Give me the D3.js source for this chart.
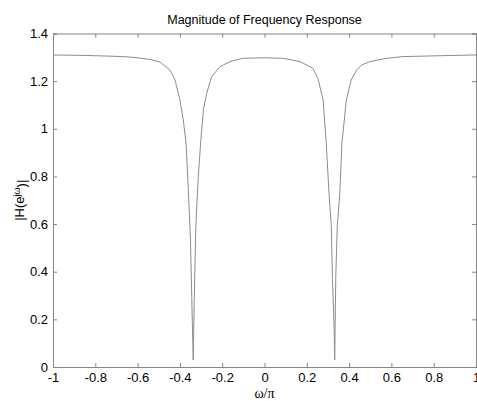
<!DOCTYPE html>
<html>
<head>
<meta charset="utf-8">
<script src="https://cdn.jsdelivr.net/npm/d3@7"></script>
<style>
  body { margin: 0; background: #fff; }
  svg text { font-family: "Liberation Sans", Arial, sans-serif; fill: #000; }
</style>
</head>
<body>
<svg id="vis" width="477" height="401"></svg>
<script>
// frequency (omega/pi) and magnitude
const omega = [-1, -0.85, -0.7, -0.65, -0.6, -0.54, -0.494, -0.447, -0.423, -0.400, -0.384,
  -0.371, -0.363, -0.356, -0.350, -0.344, -0.337, -0.332, -0.325, -0.321, -0.313, -0.302,
  -0.289, -0.273, -0.250, -0.210, -0.163, -0.102, 0, 0.087, 0.168, 0.229, 0.253, 0.277,
  0.292, 0.305, 0.316, 0.321, 0.329, 0.332, 0.337, 0.344, 0.356, 0.366, 0.387, 0.410,
  0.436, 0.460, 0.499, 0.578, 0.655, 0.844, 1];
const magnitude = [1.310, 1.308, 1.304, 1.302, 1.298, 1.291, 1.280, 1.247, 1.205, 1.121, 1.037,
  0.940, 0.799, 0.659, 0.533, 0.295, 0.029, 0.295, 0.575, 0.659, 0.799, 0.940,
  1.079, 1.150, 1.219, 1.261, 1.282, 1.296, 1.298, 1.296, 1.282, 1.254, 1.210, 1.121,
  0.939, 0.729, 0.589, 0.379, 0.169, 0.029, 0.379, 0.589, 0.729, 0.939, 1.121, 1.205,
  1.247, 1.268, 1.282, 1.296, 1.303, 1.307, 1.310];
const xTicks = [-1, -0.8, -0.6, -0.4, -0.2, 0, 0.2, 0.4, 0.6, 0.8, 1];
const yTicks = [0, 0.2, 0.4, 0.6, 0.8, 1, 1.2, 1.4];

const svg = d3.select("#vis");
const margin = {left: 53, right: 1, top: 33.5, bottom: 34};
const width = 477, height = 401;
const axisColor = "#858585";

const x = d3.scaleLinear().domain([-1, 1]).range([margin.left, width - margin.right]);
const y = d3.scaleLinear().domain([0, 1.4]).range([height - margin.bottom, margin.top]);

// matlab style labels, plain hyphen for minus
const fmt = d => String(+d.toFixed(1));

// bottom axis
const xAxis = svg.append("g")
  .attr("transform", `translate(0, ${y(0)})`)
  .call(d3.axisBottom(x).tickValues(xTicks).tickSize(-4).tickPadding(5).tickFormat(fmt));
// top axis (ticks only)
const xTop = svg.append("g")
  .attr("transform", `translate(0, ${y(1.4)})`)
  .call(d3.axisTop(x).tickValues(xTicks).tickSize(-4).tickFormat(""));
// left axis
const yAxis = svg.append("g")
  .attr("transform", `translate(${x(-1)}, 0)`)
  .call(d3.axisLeft(y).tickValues(yTicks).tickSize(-4).tickPadding(5).tickFormat(fmt));
// right axis (ticks only)
const yRight = svg.append("g")
  .attr("transform", `translate(${x(1)}, 0)`)
  .call(d3.axisRight(y).tickValues(yTicks).tickSize(-4).tickFormat(""));

[xAxis, xTop, yAxis, yRight].forEach(g => {
  g.select(".domain").attr("stroke", axisColor).attr("stroke-width", 1);
  g.selectAll(".tick line").attr("stroke", axisColor);
  g.selectAll("text").style("font-size", "13px").attr("fill", "#000");
});
xAxis.selectAll("text").attr("dy", "0.75em");

// the curve
const pts = omega.map((w, i) => [w, magnitude[i]]);
svg.append("path")
  .datum(pts)
  .attr("fill", "none")
  .attr("stroke", "#8c8c8c")
  .attr("stroke-width", 1)
  .attr("d", d3.line().x(d => x(d[0])).y(d => y(d[1])));

// title
svg.append("text")
  .attr("x", (x(-1) + x(1)) / 2)
  .attr("y", 24)
  .attr("text-anchor", "middle")
  .style("font-size", "12.5px")
  .text("Magnitude of Frequency Response");

// x label
svg.append("text")
  .attr("x", (x(-1) + x(1)) / 2)
  .attr("y", 398)
  .attr("text-anchor", "middle")
  .style("font-family", "'Liberation Serif', 'Times New Roman', serif")
  .style("font-size", "14px")
  .text("ω/π");

// y label
const yl = svg.append("text")
  .attr("transform", `translate(24, ${(y(0) + y(1.4)) / 2}) rotate(-90)`)
  .attr("text-anchor", "middle")
  .style("font-size", "13px");
yl.append("tspan").text("|H(e");
yl.append("tspan").attr("dy", "-0.45em").style("font-size", "9px").text("jω");
yl.append("tspan").attr("dy", "0.45em").text(")|");
</script>
</body>
</html>
